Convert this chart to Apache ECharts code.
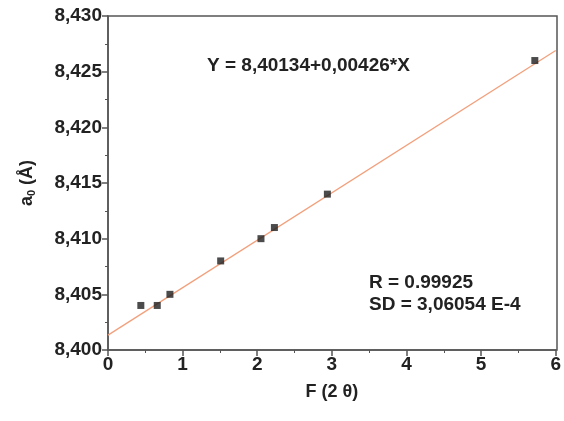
<!DOCTYPE html>
<html>
<head>
<meta charset="utf-8">
<script src="https://cdn.jsdelivr.net/npm/echarts@6/dist/echarts.min.js"></script>
<style>
  html, body { margin: 0; padding: 0; background: #fff; }
  #chart { width: 564px; height: 421px; }
</style>
</head>
<body>
<div id="chart"></div>
<script>
// 测量点 F(2θ) 与晶格常数 a0
const pointsX = [0.44, 0.66, 0.83, 1.51, 2.05, 2.23, 2.94, 5.72]
const pointsY = [8.404, 8.404, 8.405, 8.408, 8.410, 8.411, 8.414, 8.426]

// 拟合直线的两个端点
const fitX = [0, 6]
const fitY = [8.40134, 8.4269]

const xTicks = ['0', '1', '2', '3', '4', '5', '6']
const yTicks = ['8,400', '8,405', '8,410', '8,415', '8,420', '8,425', '8,430']

const font = 'Liberation Sans, Arial, sans-serif'
const textFont = 'bold 19px Liberation Sans, Arial, sans-serif'
const axisColor = '#555'

const myChart = echarts.init(document.getElementById('chart'))

const option = {
  animation: false,
  grid: { left: 108, right: 7, top: 16, bottom: 71 },
  xAxis: {
    type: 'value',
    min: 0,
    max: 6,
    interval: 1,
    name: 'F (2 θ)',
    nameLocation: 'middle',
    nameGap: 33,
    nameTextStyle: { fontFamily: font, fontSize: 18, fontWeight: 'bold', color: '#222' },
    axisLine: { onZero: false, lineStyle: { color: axisColor, width: 1.5 } },
    axisTick: { length: 6, lineStyle: { color: axisColor, width: 1.5 } },
    minorTick: { show: true, splitNumber: 2, length: 3, lineStyle: { color: axisColor } },
    splitLine: { show: false },
    axisLabel: {
      fontFamily: font, fontSize: 19, fontWeight: 'bold', color: '#222', margin: 5,
      formatter: (v) => xTicks[Math.round(v)],
    },
  },
  yAxis: {
    type: 'value',
    min: 8.4,
    max: 8.43,
    interval: 0.005,
    name: '{a|a}{s|0}{a| (Å)}',
    nameLocation: 'middle',
    nameGap: 71,
    nameRotate: 90,
    nameTextStyle: {
      rich: {
        a: { fontFamily: font, fontSize: 18, fontWeight: 'bold', color: '#222' },
        s: { fontFamily: font, fontSize: 11, fontWeight: 'bold', color: '#222', verticalAlign: 'bottom', padding: [9, 0, 0, 0] },
      },
    },
    axisLine: { lineStyle: { color: axisColor, width: 1.5 } },
    axisTick: { length: 6, lineStyle: { color: axisColor, width: 1.5 } },
    minorTick: { show: true, splitNumber: 2, length: 3, lineStyle: { color: axisColor } },
    splitLine: { show: false },
    axisLabel: {
      fontFamily: font, fontSize: 19, fontWeight: 'bold', color: '#222', margin: 6,
      formatter: (v) => yTicks[Math.round((v - 8.4) / 0.005)],
    },
  },
  // 上边框和右边框 + 文字注释
  graphic: [
    {
      type: 'rect',
      shape: { x: 108, y: 16, width: 449, height: 334 },
      style: { fill: 'none', stroke: axisColor, lineWidth: 1.5 },
      silent: true,
    },
    {
      type: 'text', left: 207, top: 56,
      style: { text: 'Y = 8,40134+0,00426*X', font: textFont, fill: '#222' },
    },
    {
      type: 'text', left: 369, top: 273,
      style: { text: 'R = 0.99925', font: textFont, fill: '#222' },
    },
    {
      type: 'text', left: 369, top: 295,
      style: { text: 'SD = 3,06054 E-4', font: textFont, fill: '#222' },
    },
  ],
  series: [
    {
      type: 'line',
      data: fitX.map((x, i) => [x, fitY[i]]),
      symbol: 'none',
      lineStyle: { color: '#f2a07c', width: 1.3 },
      z: 2,
    },
    {
      type: 'scatter',
      data: pointsX.map((x, i) => [x, pointsY[i]]),
      symbol: 'rect',
      symbolSize: 7,
      itemStyle: { color: '#1e1e1e' },
      z: 3,
    },
  ],
}

myChart.setOption(option)
</script>
</body>
</html>
